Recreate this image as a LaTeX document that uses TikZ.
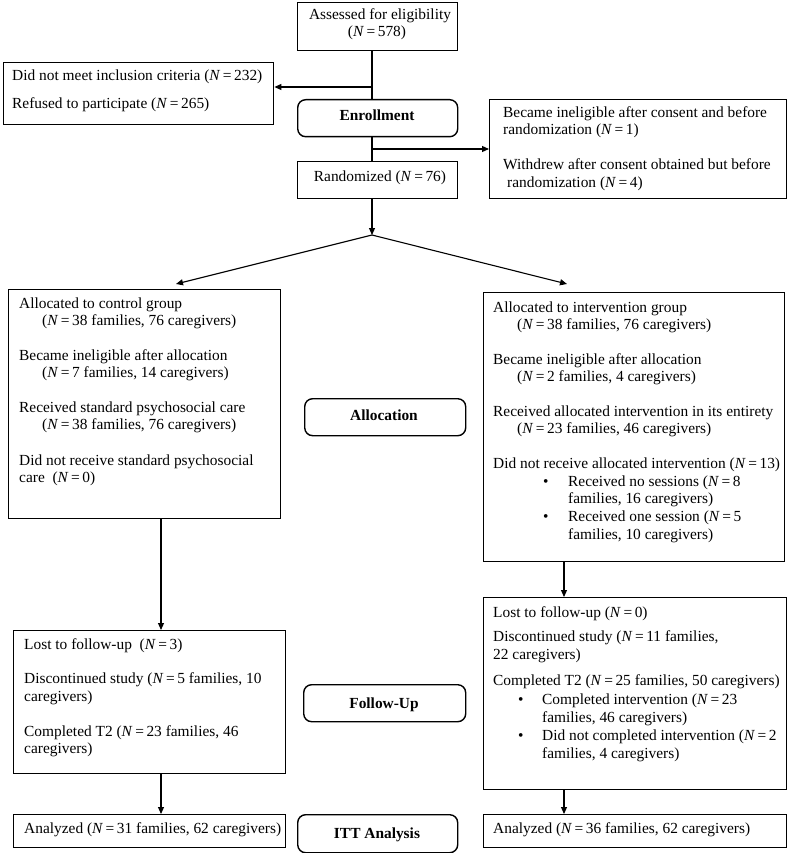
\documentclass[tikz,border=0pt]{standalone}
\usepackage{fontspec}
\setmainfont{Liberation Serif}
\usetikzlibrary{arrows.meta,calc}
\newcommand{\nn}{\textit{N}\,=\,}
\tikzset{
  box/.style={draw, line width=1.4pt, inner sep=0pt, anchor=north west, fill=white},
  rbox/.style={box, rounded corners=8pt},
  txt/.style={anchor=base west, inner sep=0pt, font=\fontsize{15.4}{17}\selectfont},
  ctxt/.style={anchor=base, inner sep=0pt, font=\fontsize{15.4}{17}\selectfont},
  btxt/.style={anchor=base, inner sep=0pt, font=\fontsize{15.4}{17}\selectfont\bfseries},
  conn/.style={line width=1.1pt},
  arr/.style={conn, -{Triangle[length=7pt,width=6pt]}}
}
\newcommand{\boxat}[5][box]{\node[#1, minimum width=#4pt, minimum height=#5pt] (#2) at (#3) {};}
\begin{document}
\begin{tikzpicture}[x=1pt,y=-1pt]
\useasboundingbox[fill=white] (0,0) rectangle (791,853);
\coordinate (spine) at (372,0);
\coordinate (colL) at (161,0);
\coordinate (colR) at (564,0);
\coordinate (b1) at (372,87);
\coordinate (b2) at (372,149);
\coordinate (split) at (372,235);
\coordinate (tipL) at (176,284);
\coordinate (tipR) at (567,284);

% connectors drawn first (boxes are filled white on top)
\draw[conn] (372,50) -- (372,161);

% boxes
\boxat{assess}{297,2}{160}{48}
\boxat{excl}{3,62}{270}{62}
\boxat[rbox]{enroll}{297,99}{160}{37}
\boxat{inel}{489,99}{297}{99}
\boxat{rand}{297,161}{160}{37}
\boxat{lalloc}{8,289}{272}{229}
\boxat{ralloc}{483,292}{301}{269}
\boxat[rbox]{alloc}{304,398}{161}{37}
\boxat{lfu}{13,630}{272}{143}
\boxat{rfu}{483,597}{303}{192}
\boxat[rbox]{fu}{303,684}{162}{37}
\boxat{lan}{13,814}{272}{33}
\boxat[rbox]{itt}{297,814}{160}{38}
\boxat{ran}{483,814}{303}{33}

% connectors
\draw[arr] (b1) -- (b1 -| excl.east);
\draw[arr] (b2) -- (b2 -| inel.west);
\draw[arr] (rand.south -| spine) -- (split);
\draw[arr] (split) -- (tipL);
\draw[arr] (split) -- (tipR);
\draw[arr] (lalloc.south -| colL) -- (lfu.north -| colL);
\draw[arr] (lfu.south -| colL) -- (lan.north -| colL);
\draw[arr] (ralloc.south -| colR) -- (rfu.north -| colR);
\draw[arr] (rfu.south -| colR) -- (ran.north -| colR);

% texts
\node[ctxt] (t1) at (380,20) {Assessed for eligibility};
\node[ctxt] (t2) at (377,37) {(\nn578)};
\node[txt] (t3) at (12,81) {Did not meet inclusion criteria (\nn232)};
\node[txt] (t4) at (12,109) {Refused to participate (\nn265)};
\node[btxt] (t5) at (377,121) {Enrollment};
\node[txt] (t6) at (503,118) {Became ineligible after consent and before};
\node[txt] (t7) at (503,135) {randomization (\nn1)};
\node[txt] (t8) at (503,170) {Withdrew after consent obtained but before};
\node[txt] (t9) at (507,187) {randomization (\nn4)};
\node[ctxt] (t10) at (380,182) {Randomized (\nn76)};

\node[txt] at (19,308) {Allocated to control group};
\node[txt] at (42,325) {(\nn38 families, 76 caregivers)};
\node[txt] at (19,360) {Became ineligible after allocation};
\node[txt] at (42,377) {(\nn7 families, 14 caregivers)};
\node[txt] at (19,412) {Received standard psychosocial care};
\node[txt] at (42,429) {(\nn38 families, 76 caregivers)};
\node[txt] at (19,465) {Did not receive standard psychosocial};
\node[txt] at (19,482) {care\ \ (\nn0)};

\node[btxt] at (384,420) {Allocation};

\node[txt] at (493,312) {Allocated to intervention group};
\node[txt] at (517,329) {(\nn38 families, 76 caregivers)};
\node[txt] at (493,364) {Became ineligible after allocation};
\node[txt] at (517,381) {(\nn2 families, 4 caregivers)};
\node[txt] at (493,416) {Received allocated intervention in its entirety};
\node[txt] at (517,433) {(\nn23 families, 46 caregivers)};
\node[txt] at (493,468) {Did not receive allocated intervention (\nn13)};
\node[txt] at (543,486) {•};
\node[txt] at (568,486) {Received no sessions (\nn8};
\node[txt] at (568,503) {families, 16 caregivers)};
\node[txt] at (543,521) {•};
\node[txt] at (568,521) {Received one session (\nn5};
\node[txt] at (568,539) {families, 10 caregivers)};

\node[txt] at (24,649) {Lost to follow-up\ \ (\nn3)};
\node[txt] at (24,683) {Discontinued study (\nn5 families, 10};
\node[txt] at (24,701) {caregivers)};
\node[txt] at (24,736) {Completed T2 (\nn23 families, 46};
\node[txt] at (24,753) {caregivers)};

\node[btxt] at (384,708) {Follow-Up};

\node[txt] at (493,617) {Lost to follow-up (\nn0)};
\node[txt] at (493,641) {Discontinued study (\nn11 families,};
\node[txt] at (493,659) {22 caregivers)};
\node[txt] at (493,685) {Completed T2 (\nn25 families, 50 caregivers)};
\node[txt] at (518,704) {•};
\node[txt] at (542,704) {Completed intervention (\nn23};
\node[txt] at (542,722) {families, 46 caregivers)};
\node[txt] at (518,740) {•};
\node[txt] at (542,740) {Did not completed intervention (\nn2};
\node[txt] at (542,758) {families, 4 caregivers)};

\node[txt] at (24,833) {Analyzed (\nn31 families, 62 caregivers)};
\node[btxt] at (377,838) {ITT Analysis};
\node[txt] at (493,833) {Analyzed (\nn36 families, 62 caregivers)};
\end{tikzpicture}
\end{document}
